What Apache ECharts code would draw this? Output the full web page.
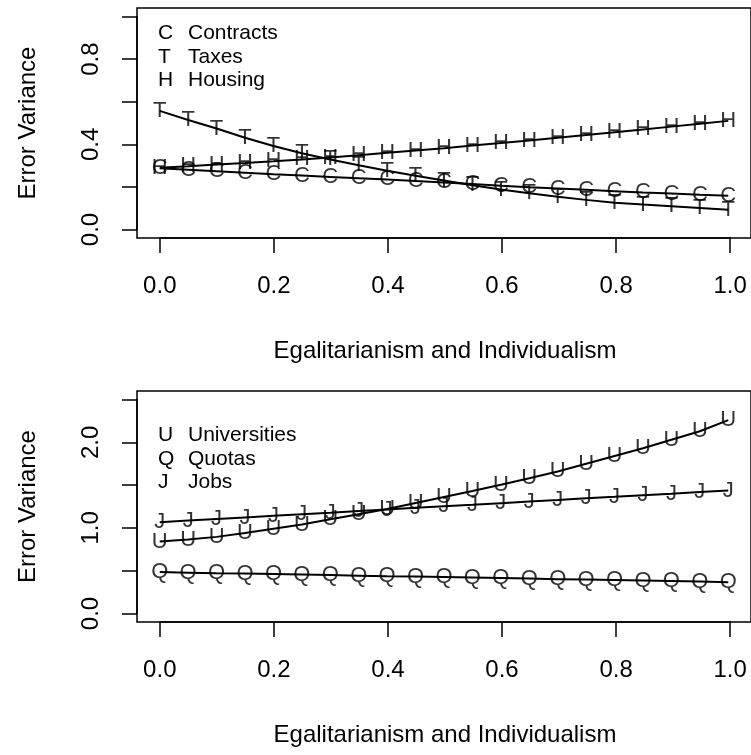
<!DOCTYPE html>
<html>
<head>
<meta charset="utf-8">
<script src="https://cdn.jsdelivr.net/npm/echarts@6/dist/echarts.min.js"></script>
<style>html,body{margin:0;padding:0;background:#fff}#c{width:751px;height:755px}</style>
</head>
<body>
<div id="c"></div>
<script>
const xs = [0,0.05,0.1,0.15,0.2,0.25,0.3,0.35,0.4,0.45,0.5,0.55,0.6,0.65,0.7,0.75,0.8,0.85,0.9,0.95,1.0];
// top panel
const contracts = [0.287,0.280,0.273,0.266,0.259,0.253,0.247,0.241,0.235,0.228,0.221,0.213,0.205,0.198,0.192,0.186,0.180,0.174,0.169,0.163,0.158];
const taxes = [0.557,0.514,0.474,0.431,0.392,0.358,0.329,0.302,0.276,0.252,0.230,0.208,0.188,0.170,0.154,0.139,0.126,0.117,0.109,0.101,0.093];
const housing = [0.290,0.297,0.305,0.312,0.320,0.329,0.338,0.349,0.360,0.371,0.382,0.394,0.406,0.418,0.431,0.444,0.457,0.470,0.483,0.496,0.510];
// bottom panel
const universities = [0.84,0.865,0.895,0.94,0.99,1.04,1.10,1.16,1.22,1.29,1.36,1.43,1.505,1.58,1.66,1.75,1.84,1.93,2.03,2.13,2.26];
const quotas = [0.483,0.477,0.471,0.466,0.460,0.454,0.448,0.442,0.436,0.431,0.425,0.419,0.413,0.407,0.401,0.396,0.390,0.384,0.378,0.372,0.366];
const jobs = [1.067,1.085,1.104,1.122,1.141,1.160,1.178,1.197,1.215,1.234,1.252,1.270,1.289,1.308,1.326,1.345,1.363,1.382,1.400,1.419,1.437];

const xTickLabels = ['0.0','0.2','0.4','0.6','0.8','1.0'];
const topYTickLabels = ['0.0','','0.4','','0.8',''];
const botYTickLabels = ['0.0','','1.0','','2.0',''];
const xTitle = 'Egalitarianism and Individualism';
const yTitle = 'Error Variance';

const topSeries = [
  {name:'Contracts', letter:'C', data:contracts},
  {name:'Taxes', letter:'T', data:taxes},
  {name:'Housing', letter:'H', data:housing}
];
const botSeries = [
  {name:'Universities', letter:'U', data:universities},
  {name:'Quotas', letter:'Q', data:quotas},
  {name:'Jobs', letter:'J', data:jobs}
];

const FONT = 'Liberation Sans, Arial, Helvetica, sans-serif';
const chart = echarts.init(document.getElementById('c'), null, {renderer:'canvas'});

function hiddenAxis(gi, min, max){
  return {type:'value', gridIndex:gi, min:min, max:max, show:true,
    axisLine:{show:false}, axisTick:{show:false}, axisLabel:{show:false}, splitLine:{show:false}};
}
function tickX(gi, offset, name, nameGap){
  return {type:'value', gridIndex:gi, min:0, max:1, interval:0.2, position:'bottom', offset:offset,
    axisLine:{show:true, onZero:false, lineStyle:{color:'#000', width:1.5}},
    axisTick:{show:true, inside:false, length:15, lineStyle:{color:'#000', width:1.5}},
    axisLabel:{show:true, margin:36, fontSize:24, color:'#000', fontFamily:FONT,
      formatter:(v,i)=>xTickLabels[i]},
    splitLine:{show:false},
    name:name, nameLocation:'middle', nameGap:nameGap,
    nameTextStyle:{fontSize:24, color:'#000', fontFamily:FONT}};
}
function tickY(gi, max, interval, labels, offset){
  return {type:'value', gridIndex:gi, min:0, max:max, interval:interval, position:'left', offset:offset,
    axisLine:{show:true, onZero:false, lineStyle:{color:'#000', width:1.5}},
    axisTick:{show:true, inside:false, length:15, lineStyle:{color:'#000', width:1.5}},
    axisLabel:{show:true, rotate:90, margin:34, fontSize:24, color:'#000', fontFamily:FONT,
      formatter:(v,i)=>labels[i]},
    splitLine:{show:false},
    name:yTitle, nameLocation:'middle', nameGap:97, nameRotate:90,
    nameTextStyle:{fontSize:24, color:'#000', fontFamily:FONT}};
}

const series = [];
function addSeries(list, gi){
  list.forEach(s=>{
    const pts = xs.map((x,i)=>[x, s.data[i]]);
    series.push({type:'line', name:s.name, xAxisIndex:gi, yAxisIndex:gi, data:pts,
      symbol:'none', lineStyle:{color:'#000', width:2}, silent:true, animation:false, z:2});
    series.push({type:'scatter', name:s.name+'-pts', xAxisIndex:gi, yAxisIndex:gi, data:pts,
      symbolSize:1, itemStyle:{color:'rgba(0,0,0,0)'}, silent:true, animation:false, z:3,
      label:{show:true, position:'inside', formatter:s.letter, color:'#000', fontSize:22, fontFamily:FONT}});
  });
}
addSeries(topSeries, 0);
addSeries(botSeries, 2);

const graphics = [];
function addLegend(list, y0){
  list.forEach((s,i)=>{
    graphics.push({type:'text', left:158, top:y0 + i*23.5, style:{text:s.letter, fontSize:21, fontFamily:FONT, fill:'#000'}});
    graphics.push({type:'text', left:188, top:y0 + i*23.5, style:{text:s.name, fontSize:21, fontFamily:FONT, fill:'#000'}});
  });
}
addLegend(topSeries, 23);
addLegend(botSeries, 425);

chart.setOption({
  animation:false,
  backgroundColor:'#fff',
  grid:[
    {left:137, top:8, width:616, height:230, show:true, borderColor:'#000', borderWidth:1.5, backgroundColor:'transparent'},
    {left:159.8, top:16.5, width:570.4, height:213},
    {left:137, top:391, width:616, height:231, show:true, borderColor:'#000', borderWidth:1.5, backgroundColor:'transparent'},
    {left:159.8, top:399.5, width:570.4, height:214}
  ],
  xAxis:[
    hiddenAxis(0,-0.04,1.04),
    tickX(1, 8.5, xTitle, 101),
    hiddenAxis(2,-0.04,1.04),
    tickX(3, 8.5, xTitle, 101)
  ],
  yAxis:[
    hiddenAxis(0,-0.04,1.04),
    tickY(1, 1, 0.2, topYTickLabels, 22.8),
    hiddenAxis(2,-0.1,2.6),
    tickY(3, 2.5, 0.5, botYTickLabels, 22.8)
  ],
  series:series,
  graphic:graphics
});
</script>
</body>
</html>
